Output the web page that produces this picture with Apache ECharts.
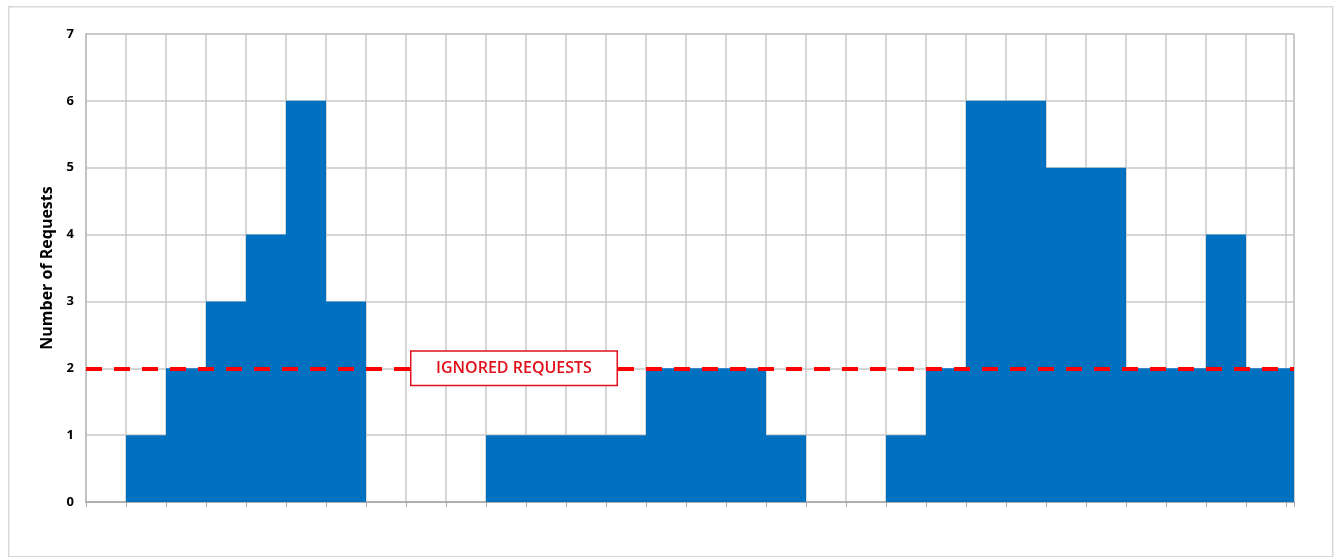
<!DOCTYPE html>
<html>
<head>
<meta charset="utf-8">
<script src="https://cdn.jsdelivr.net/npm/echarts@6/dist/echarts.min.js"></script>
<style>
html,body{margin:0;padding:0;background:#fff;}
#c{width:1335px;height:557px;}
</style>
</head>
<body>
<div id="c"></div>
<script>
// Data: one value per time slot (30 slots); last slot extends to axis end
const slotStarts = [0,1,2,3,4,5,6,7,8,9,10,11,12,13,14,15,16,17,18,19,20,21,22,23,24,25,26,27,28,29];
const requests   = [0,1,2,3,4,6,3,0,0,0,1,1,1,1,2,2,2,1,0,0,1,2,6,6,5,5,2,2,4,2];
const xEnd = 30.2;
const yTicks = [0,1,2,3,4,5,6,7];
const thresholdValue = 2;
const thresholdLabel = 'IGNORED REQUESTS';
const thresholdLabelX = 10.7;
const yAxisTitle = 'Number of Requests';

const stepData = slotStarts.map((x, i) => [x, requests[i]]);
stepData.push([xEnd, requests[requests.length - 1]]);

const chart = echarts.init(document.getElementById('c'));
chart.setOption({
  animation: false,
  backgroundColor: '#ffffff',
  graphic: [{
    type: 'rect', left: 8, top: 6, z: -10,
    shape: { width: 1324, height: 550 },
    style: { fill: '#ffffff', stroke: '#d9d9d9', lineWidth: 1.5 }
  }],
  grid: { left: 86, right: 41, top: 34, bottom: 55, show: true, borderColor: '#bfbfbf', borderWidth: 1.5, backgroundColor: 'transparent' },
  xAxis: {
    type: 'value', min: 0, max: xEnd, interval: 1,
    axisLabel: { show: false },
    axisLine: { show: true, lineStyle: { color: '#a6a6a6', width: 1.5 } },
    axisTick: { show: true, length: 5, lineStyle: { color: '#a6a6a6' } },
    splitLine: { show: true, lineStyle: { color: '#c8c8c8', width: 1.5 } }
  },
  yAxis: {
    type: 'value', min: yTicks[0], max: yTicks[yTicks.length - 1], interval: 1,
    name: yAxisTitle, nameLocation: 'middle', nameGap: 30, nameRotate: 90,
    nameTextStyle: { fontFamily: 'Open Sans', fontWeight: 'bold', fontSize: 16, color: '#000' },
    axisLabel: { fontFamily: 'Open Sans', fontWeight: 'bold', fontSize: 13, color: '#000', margin: 12 },
    axisLine: { show: true, lineStyle: { color: '#bfbfbf', width: 1.5 } },
    axisTick: { show: false },
    splitLine: { show: true, lineStyle: { color: '#c8c8c8', width: 1.5 } }
  },
  series: [{
    type: 'line',
    data: stepData,
    step: 'end',
    symbol: 'none',
    lineStyle: { width: 0 },
    areaStyle: { color: '#0070c0', opacity: 1 },
    z: 2,
    markLine: {
      silent: true, symbol: 'none', z: 5,
      lineStyle: { color: '#ff0000', type: [16, 12], width: 4 },
      label: { show: false },
      data: [[{ coord: [0, thresholdValue] }, { coord: [xEnd, thresholdValue] }]]
    },
    markPoint: {
      silent: true, z: 6,
      symbol: 'circle', symbolSize: 1,
      itemStyle: { color: 'rgba(0,0,0,0)' },
      label: {
        show: true, position: 'inside', color: '#e0101a',
        fontFamily: 'Open Sans', fontWeight: 600, fontSize: 16,
        backgroundColor: '#ffffff', borderColor: '#e0101a', borderWidth: 1.5,
        width: 177, align: 'center', lineHeight: 19, padding: [7, 14],
        formatter: thresholdLabel
      },
      data: [{ coord: [thresholdLabelX, thresholdValue] }]
    }
  }]
});
</script>
</body>
</html>
